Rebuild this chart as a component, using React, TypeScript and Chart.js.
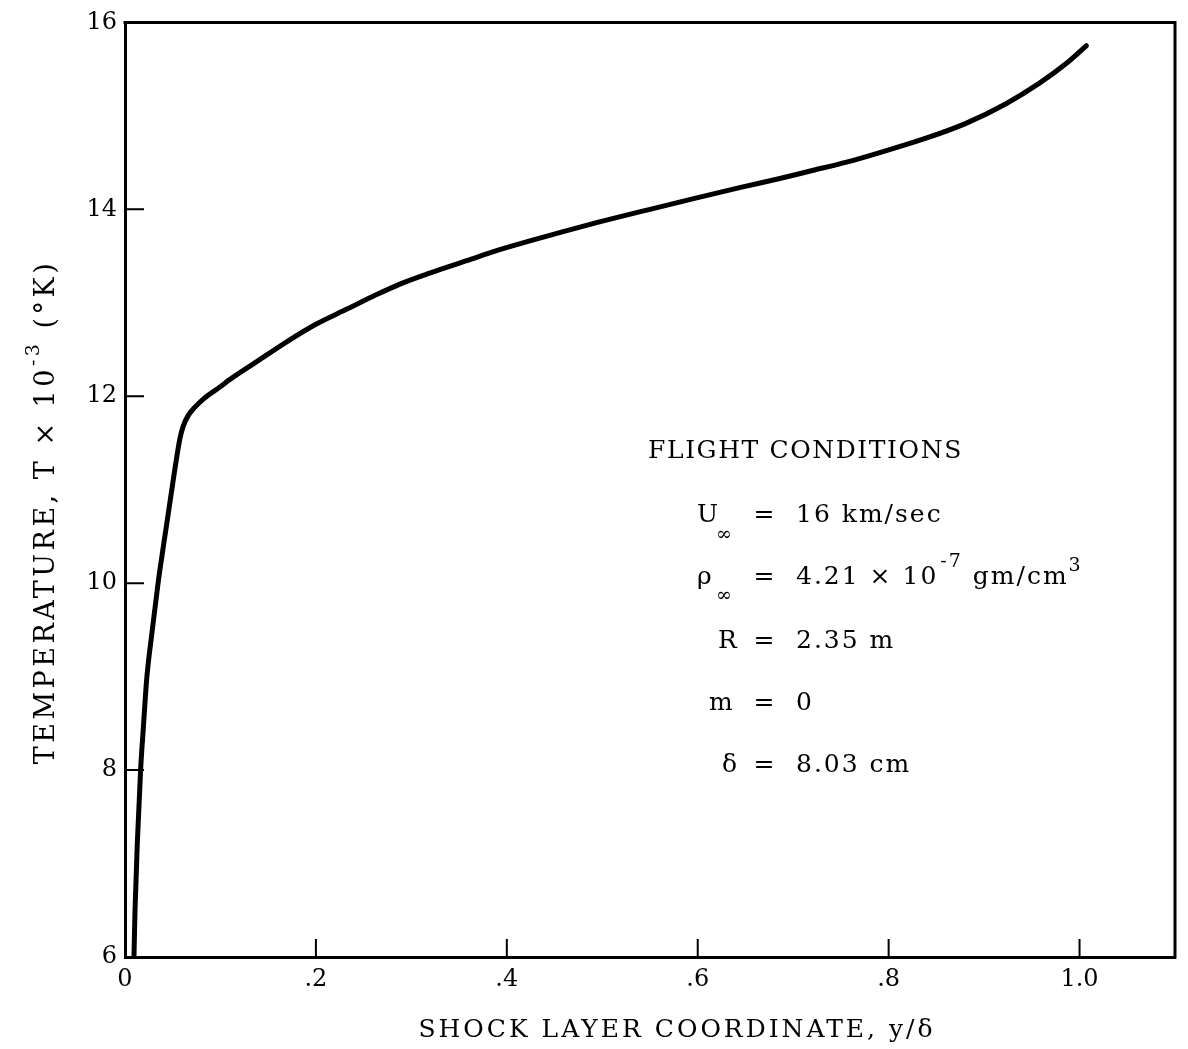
import React, { useEffect, useRef } from "react";
import { Chart, registerables } from "chart.js";

Chart.register(...registerables);

// y/δ (shock layer coordinate)
const xCoord = [0.0094, 0.0105, 0.0129, 0.0164, 0.0192, 0.0227, 0.028, 0.0349, 0.040, 0.0454, 0.0524, 0.0576, 0.061, 0.066, 0.073, 0.082, 0.0995, 0.110, 0.138, 0.169, 0.20, 0.232, 0.26, 0.288, 0.32, 0.358, 0.39, 0.427, 0.46, 0.497, 0.55, 0.60, 0.645, 0.686, 0.72, 0.756, 0.79, 0.836, 0.881, 0.923, 0.958, 0.986, 1.007];
// T × 10^-3 (°K)
const temperature = [6.0, 6.5, 7.22, 8.01, 8.45, 8.97, 9.45, 10.02, 10.38, 10.75, 11.23, 11.55, 11.68, 11.79, 11.88, 11.97, 12.10, 12.18, 12.37, 12.58, 12.77, 12.93, 13.07, 13.20, 13.32, 13.45, 13.56, 13.67, 13.765, 13.865, 14.0, 14.125, 14.235, 14.33, 14.415, 14.505, 14.605, 14.75, 14.92, 15.13, 15.35, 15.56, 15.75];

const xTicks = [0, 0.2, 0.4, 0.6, 0.8, 1.0];
const xTickLabels = ["0", ".2", ".4", ".6", ".8", "1.0"];
const yTicks = [6, 8, 10, 12, 14, 16];
const yTickLabels = ["6", "8", "10", "12", "14", "16"];
const xTickMarks = [0.2, 0.4, 0.6, 0.8, 1.0];
const yTickMarks = [8, 10, 12, 14];

const FONT = '"DejaVu Serif", "Liberation Serif", serif';

const xTitle = "SHOCK LAYER COORDINATE, y/\u03b4";
const yTitleMain = "TEMPERATURE, T \u00d7 10";
const yTitleSup = "-3";
const yTitleEnd = " (\u00b0K)";
const flightHeader = "FLIGHT CONDITIONS";

const decorPlugin = {
  id: "decor",
  afterDraw(chart: any) {
    const { ctx, chartArea, scales } = chart;
    const { left, right, top, bottom } = chartArea;
    const xs = scales.x;
    const ys = scales.y;
    ctx.save();
    ctx.strokeStyle = "#000";
    ctx.fillStyle = "#000";
    // box top & right
    ctx.lineWidth = 3;
    ctx.beginPath();
    ctx.moveTo(left - 1.5, top);
    ctx.lineTo(right, top);
    ctx.lineTo(right, bottom + 1.5);
    ctx.stroke();
    // inward tick marks
    ctx.lineWidth = 2;
    ctx.beginPath();
    yTickMarks.forEach((v) => {
      const py = ys.getPixelForValue(v);
      ctx.moveTo(left, py);
      ctx.lineTo(left + 19, py);
    });
    xTickMarks.forEach((v) => {
      const px = xs.getPixelForValue(v);
      ctx.moveTo(px, bottom);
      ctx.lineTo(px, bottom - 18);
    });
    ctx.stroke();

    // x title
    ctx.font = `25px ${FONT}`;
    ctx.letterSpacing = "3px";
    ctx.textBaseline = "alphabetic";
    ctx.textAlign = "left";
    const xw = ctx.measureText(xTitle).width;
    ctx.fillText(xTitle, 677 - xw / 2, 1037);

    // y title (rotated, with superscript)
    ctx.save();
    ctx.translate(54, 512);
    ctx.rotate(-Math.PI / 2);
    ctx.textAlign = "left";
    ctx.letterSpacing = "3.5px";
    const mainFont = `27px ${FONT}`;
    const supFont = `19px ${FONT}`;
    ctx.font = mainFont;
    const w1 = ctx.measureText(yTitleMain).width;
    const w3 = ctx.measureText(yTitleEnd).width;
    ctx.font = supFont;
    const w2 = ctx.measureText(yTitleSup).width;
    const total = w1 + w2 + w3;
    let cx = -total / 2;
    ctx.font = mainFont;
    ctx.fillText(yTitleMain, cx, 0);
    cx += w1;
    ctx.font = supFont;
    ctx.fillText(yTitleSup, cx, -15);
    cx += w2;
    ctx.font = mainFont;
    ctx.fillText(yTitleEnd, cx, 0);
    ctx.restore();

    // flight conditions annotation
    const f = `25px ${FONT}`;
    const fs = `19px ${FONT}`;
    ctx.letterSpacing = "1.6px";
    ctx.textAlign = "left";
    ctx.font = f;
    ctx.fillText(flightHeader, 648, 458);
    ctx.letterSpacing = "2px";

    const eqX = 765;
    const valX = 796;
    const drawEq = (base: number) => {
      ctx.font = f;
      ctx.textAlign = "center";
      ctx.fillText("=", eqX, base);
      ctx.textAlign = "left";
    };
    // U∞
    ctx.font = f;
    ctx.fillText("U", 697, 522);
    ctx.font = fs;
    ctx.fillText("\u221e", 716, 540);
    drawEq(522);
    ctx.font = f;
    ctx.fillText("16 km/sec", valX, 522);
    // ρ∞
    ctx.font = f;
    ctx.fillText("\u03c1", 697, 584);
    ctx.font = fs;
    ctx.fillText("\u221e", 716, 601);
    drawEq(584);
    ctx.font = f;
    const s1 = "4.21 \u00d7 10";
    ctx.fillText(s1, valX, 584);
    let px = valX + ctx.measureText(s1).width;
    ctx.font = fs;
    ctx.fillText("-7", px + 2, 567);
    px += ctx.measureText("-7").width + 2;
    ctx.font = f;
    const s2 = " gm/cm";
    ctx.fillText(s2, px, 584);
    px += ctx.measureText(s2).width;
    ctx.font = fs;
    ctx.fillText("3", px, 571);
    // R
    ctx.font = f;
    ctx.fillText("R", 718, 648);
    drawEq(648);
    ctx.fillText("2.35 m", valX, 648);
    // m
    ctx.fillText("m", 709, 710);
    drawEq(710);
    ctx.fillText("0", valX, 710);
    // δ
    ctx.fillText("\u03b4", 722, 772);
    drawEq(772);
    ctx.fillText("8.03 cm", valX, 772);

    ctx.restore();
  },
};

export default function App() {
  const canvasRef = useRef<HTMLCanvasElement | null>(null);

  useEffect(() => {
    document.body.style.margin = "0";
    const canvas = canvasRef.current;
    if (!canvas) return;
    const chart = new Chart(canvas, {
      type: "line",
      data: {
        datasets: [
          {
            data: xCoord.map((v, i) => ({ x: v, y: temperature[i] })),
            borderColor: "#000",
            borderWidth: 5,
            pointRadius: 0,
            cubicInterpolationMode: "monotone",
            borderCapStyle: "round",
            borderJoinStyle: "round",
            fill: false,
          },
        ],
      },
      options: {
        responsive: false,
        maintainAspectRatio: false,
        animation: false,
        devicePixelRatio: 1,
        layout: { padding: { left: 0, right: 13, top: 19, bottom: 0 } },
        plugins: {
          legend: { display: false },
          tooltip: { enabled: false },
          title: { display: false },
        },
        scales: {
          x: {
            type: "linear",
            min: 0,
            max: 1.1,
            afterBuildTicks: (s: any) => {
              s.ticks = xTicks.map((v) => ({ value: v }));
            },
            afterFit: (s: any) => {
              s.height = 92;
            },
            ticks: {
              autoSkip: false,
              maxRotation: 0,
              padding: 8,
              color: "#000",
              font: { family: FONT, size: 24 },
              callback: (v: any) => {
                const i = xTicks.findIndex((t) => Math.abs(t - Number(v)) < 1e-9);
                return i >= 0 ? xTickLabels[i] : "";
              },
            },
            grid: { display: false, drawTicks: false },
            border: { display: true, color: "#000", width: 3 },
          },
          y: {
            type: "linear",
            min: 6,
            max: 16,
            afterBuildTicks: (s: any) => {
              s.ticks = yTicks.map((v) => ({ value: v }));
            },
            afterFit: (s: any) => {
              s.width = 125;
            },
            ticks: {
              autoSkip: false,
              padding: 8,
              color: "#000",
              font: { family: FONT, size: 24 },
              callback: (v: any) => {
                const i = yTicks.findIndex((t) => Math.abs(t - Number(v)) < 1e-9);
                return i >= 0 ? yTickLabels[i] : "";
              },
            },
            grid: { display: false, drawTicks: false },
            border: { display: true, color: "#000", width: 3 },
          },
        },
      },
      plugins: [decorPlugin],
    } as any);
    return () => chart.destroy();
  }, []);

  return (
    <div style={{ width: 1188, height: 1049, background: "#fff" }}>
      <canvas ref={canvasRef} width={1188} height={1049} />
    </div>
  );
}
